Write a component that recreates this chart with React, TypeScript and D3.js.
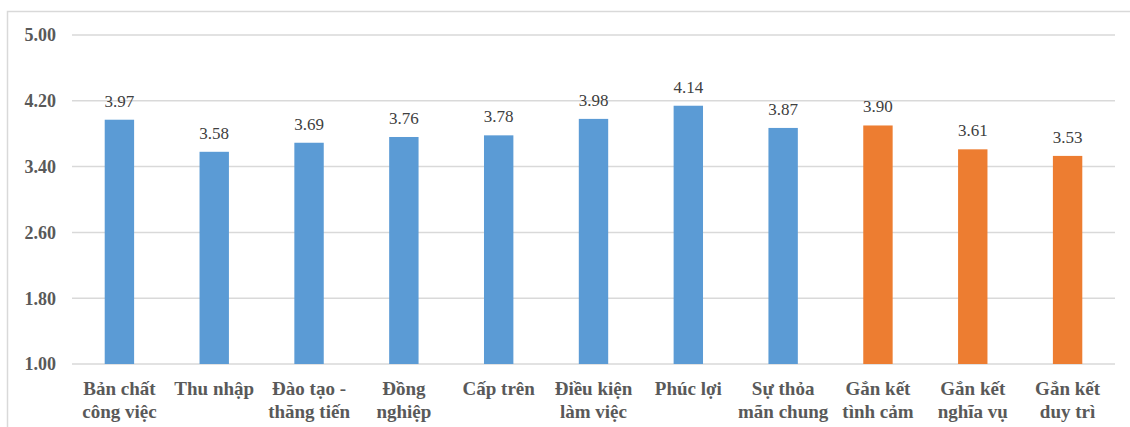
import React, { useEffect, useRef } from 'react';
import * as d3 from 'd3';

const categories: string[][] = [
  ['Bản chất', 'công việc'],
  ['Thu nhập'],
  ['Đào tạo -', 'thăng tiến'],
  ['Đồng', 'nghiệp'],
  ['Cấp trên'],
  ['Điều kiện', 'làm việc'],
  ['Phúc lợi'],
  ['Sự thỏa', 'mãn chung'],
  ['Gắn kết', 'tình cảm'],
  ['Gắn kết', 'nghĩa vụ'],
  ['Gắn kết', 'duy trì'],
];
const values = [3.97, 3.58, 3.69, 3.76, 3.78, 3.98, 4.14, 3.87, 3.9, 3.61, 3.53];
const groups = ['sat', 'sat', 'sat', 'sat', 'sat', 'sat', 'sat', 'sat', 'eng', 'eng', 'eng'];
const yTicks = [1.0, 1.8, 2.6, 3.4, 4.2, 5.0];

const App: React.FC = () => {
  const ref = useRef<SVGSVGElement>(null);

  useEffect(() => {
    if (!ref.current) return;
    const svg = d3.select(ref.current);
    svg.selectAll('*').remove();

    const width = 1130;
    const height = 427;
    const left = 72;
    const right = 1115;
    const top = 35;
    const bottom = 364;
    const serif = "'Liberation Serif', 'DejaVu Serif', 'Times New Roman', serif";

    // chart border
    svg.append('rect')
      .attr('x', 7.5)
      .attr('y', 11.5)
      .attr('width', width)
      .attr('height', height)
      .attr('fill', 'white')
      .attr('stroke', '#d9d9d9')
      .attr('stroke-width', 1.5);

    const x = d3.scaleBand<number>()
      .domain(d3.range(values.length))
      .range([left, right])
      .paddingInner(0.69)
      .paddingOuter(0.345);

    const y = d3.scaleLinear()
      .domain([1, 5])
      .range([bottom, top]);

    const color = d3.scaleOrdinal<string, string>()
      .domain(['sat', 'eng'])
      .range(['#5B9BD5', '#ED7D31']);

    // grid + y labels
    const yAxis = svg.append('g');
    yAxis.selectAll('line')
      .data(yTicks)
      .enter()
      .append('line')
      .attr('x1', left)
      .attr('x2', right)
      .attr('y1', d => y(d))
      .attr('y2', d => y(d))
      .attr('stroke', '#d9d9d9')
      .attr('stroke-width', 1.5);

    yAxis.selectAll('text')
      .data(yTicks)
      .enter()
      .append('text')
      .attr('x', 56)
      .attr('y', d => y(d))
      .attr('dy', '0.35em')
      .attr('text-anchor', 'end')
      .attr('font-family', serif)
      .attr('font-weight', 'bold')
      .attr('font-size', 18)
      .attr('fill', '#595959')
      .text(d => d.toFixed(2));

    // bars
    svg.append('g')
      .selectAll('rect')
      .data(values)
      .enter()
      .append('rect')
      .attr('x', (d, i) => x(i)!)
      .attr('width', x.bandwidth())
      .attr('y', d => y(d))
      .attr('height', d => y(1) - y(d))
      .attr('fill', (d, i) => color(groups[i]));

    // value labels
    svg.append('g')
      .selectAll('text')
      .data(values)
      .enter()
      .append('text')
      .attr('x', (d, i) => x(i)! + x.bandwidth() / 2)
      .attr('y', d => y(d) - 13)
      .attr('text-anchor', 'middle')
      .attr('font-family', serif)
      .attr('font-size', 17)
      .attr('fill', '#404040')
      .text(d => d.toFixed(2));

    // category labels
    const cat = svg.append('g')
      .selectAll('text')
      .data(categories)
      .enter()
      .append('text')
      .attr('x', (d, i) => x(i)! + x.bandwidth() / 2)
      .attr('y', 395)
      .attr('text-anchor', 'middle')
      .attr('font-family', serif)
      .attr('font-weight', 'bold')
      .attr('font-size', 19)
      .attr('fill', '#595959');

    cat.selectAll('tspan')
      .data(d => d)
      .enter()
      .append('tspan')
      .attr('x', function () {
        return (this as SVGTSpanElement).parentElement!.getAttribute('x');
      })
      .attr('dy', (d, i) => (i === 0 ? 0 : 23))
      .text(d => d);
  }, []);

  return (
    <svg
      ref={ref}
      width={1130}
      height={427}
      style={{ position: 'absolute', left: 0, top: 0, background: 'white' }}
    />
  );
};

export default App;
